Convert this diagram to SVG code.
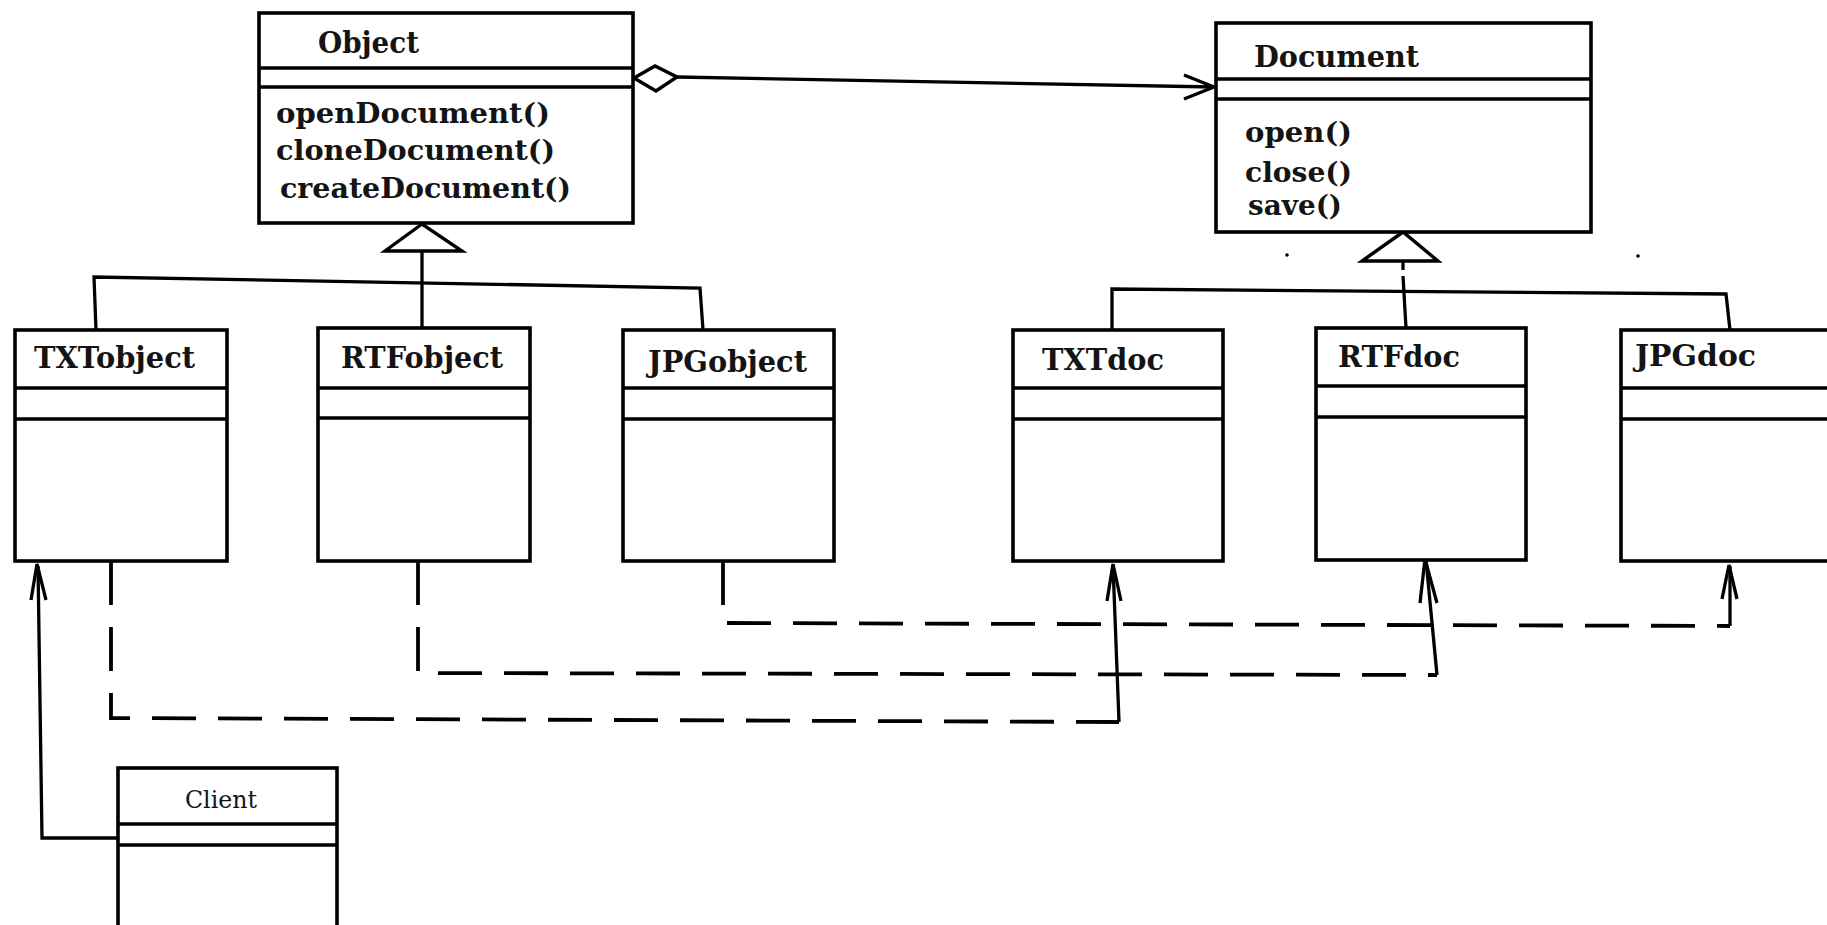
<svg xmlns="http://www.w3.org/2000/svg" width="1827" height="925" viewBox="0 0 1827 925">
  <style>
    .box { fill: #ffffff; stroke: #000000; stroke-width: 3.6; }
    .sep { stroke: #000000; stroke-width: 3.6; fill: none; }
    .title { font-family: "DejaVu Serif", "Liberation Serif", serif; font-weight: bold; font-size: 29px; fill: #141414; }
    .method { font-family: "DejaVu Serif", "Liberation Serif", serif; font-weight: bold; font-size: 27px; fill: #141414; }
    .plain { font-family: "DejaVu Serif", "Liberation Serif", serif; font-size: 24px; fill: #151515; }
    .line { fill: none; stroke: #000000; stroke-width: 3.3; stroke-linejoin: miter; }
    .dash { fill: none; stroke: #000000; stroke-width: 3.8; stroke-dasharray: 44 22; }
    .head { fill: none; stroke: #000000; stroke-width: 3.3; stroke-linejoin: miter; }
    .hollow { fill: #ffffff; stroke: #000000; stroke-width: 3.4; stroke-linejoin: miter; }
  </style>

  <rect x="0" y="0" width="1827" height="925" fill="#ffffff"/>

  <!-- connectors -->
  <g id="connectors">
    <!-- Object subclasses: generalization tree -->
    <polyline class="line" points="96,330 94,277 700,288 703,330"/>
    <line class="line" x1="422" y1="250" x2="422" y2="330"/>
    <polygon class="hollow" points="422,224 385,251 462,251"/>

    <!-- Document subclasses: generalization tree -->
    <polyline class="line" points="1112,330 1112,289 1726,294 1730,330"/>
    <line class="line" x1="1403" y1="261" x2="1403" y2="270"/>
    <line class="line" x1="1403" y1="276" x2="1406" y2="328"/>
    <polygon class="hollow" points="1403,232 1362,261 1438,261"/>

    <!-- Object aggregates Document -->
    <line class="line" x1="677" y1="77" x2="1214" y2="87"/>
    <polygon class="hollow" points="634,78 655,66 677,77 656,91"/>
    <polyline class="head" points="1184,75 1214,87 1184,99"/>

    <!-- Client uses TXTobject -->
    <polyline class="line" points="118,838 42,838 38,566"/>
    <polyline class="head" points="31,600 37,564 46,600"/>

    <!-- TXTobject creates TXTdoc -->
    <path class="dash" d="M111,561 V718 L1119,722"/>
    <line class="line" x1="1119" y1="722" x2="1113" y2="565"/>
    <polyline class="head" points="1107,601 1113,564 1121,601"/>

    <!-- RTFobject creates RTFdoc -->
    <path class="dash" d="M418,561 V673 L1437,675"/>
    <line class="line" x1="1437" y1="675" x2="1426" y2="560"/>
    <polyline class="head" points="1420,603 1425,559 1437,603"/>

    <!-- JPGobject creates JPGdoc -->
    <path class="dash" d="M723,561 V623 L1730,626"/>
    <line class="line" x1="1730" y1="626" x2="1730" y2="566"/>
    <polyline class="head" points="1722,599 1729,565 1737,599"/>

    <circle cx="1287" cy="255" r="1.8" fill="#000"/>
    <circle cx="1638" cy="256" r="1.8" fill="#000"/>
  </g>

  <!-- Object -->
  <g id="object">
    <rect class="box" x="259" y="13" width="374" height="210"/>
    <line class="sep" x1="259" y1="68" x2="633" y2="68"/>
    <line class="sep" x1="259" y1="87" x2="633" y2="87"/>
    <text class="title" x="318" y="53" textLength="101" lengthAdjust="spacingAndGlyphs">Object</text>
    <text class="method" x="276" y="123" textLength="274" lengthAdjust="spacingAndGlyphs">openDocument()</text>
    <text class="method" x="276" y="160" textLength="279" lengthAdjust="spacingAndGlyphs">cloneDocument()</text>
    <text class="method" x="280" y="198" textLength="291" lengthAdjust="spacingAndGlyphs">createDocument()</text>
  </g>

  <!-- Document -->
  <g id="document">
    <rect class="box" x="1216" y="23" width="375" height="209"/>
    <line class="sep" x1="1216" y1="79" x2="1591" y2="79"/>
    <line class="sep" x1="1216" y1="99" x2="1591" y2="99"/>
    <text class="title" x="1254" y="67" textLength="165" lengthAdjust="spacingAndGlyphs">Document</text>
    <text class="method" x="1245" y="142" textLength="107" lengthAdjust="spacingAndGlyphs">open()</text>
    <text class="method" x="1245" y="182" textLength="107" lengthAdjust="spacingAndGlyphs">close()</text>
    <text class="method" x="1248" y="215" textLength="94" lengthAdjust="spacingAndGlyphs">save()</text>
  </g>

  <!-- TXTobject -->
  <g id="txtobject">
    <rect class="box" x="15" y="330" width="212" height="231"/>
    <line class="sep" x1="15" y1="388" x2="227" y2="388"/>
    <line class="sep" x1="15" y1="419" x2="227" y2="419"/>
    <text class="title" x="34" y="368" textLength="161" lengthAdjust="spacingAndGlyphs">TXTobject</text>
  </g>

  <!-- RTFobject -->
  <g id="rtfobject">
    <rect class="box" x="318" y="328" width="212" height="233"/>
    <line class="sep" x1="318" y1="388" x2="530" y2="388"/>
    <line class="sep" x1="318" y1="418" x2="530" y2="418"/>
    <text class="title" x="341" y="368" textLength="162" lengthAdjust="spacingAndGlyphs">RTFobject</text>
  </g>

  <!-- JPGobject -->
  <g id="jpgobject">
    <rect class="box" x="623" y="330" width="211" height="231"/>
    <line class="sep" x1="623" y1="388" x2="834" y2="388"/>
    <line class="sep" x1="623" y1="419" x2="834" y2="419"/>
    <text class="title" x="648" y="372" textLength="159" lengthAdjust="spacingAndGlyphs">JPGobject</text>
  </g>

  <!-- TXTdoc -->
  <g id="txtdoc">
    <rect class="box" x="1013" y="330" width="210" height="231"/>
    <line class="sep" x1="1013" y1="388" x2="1223" y2="388"/>
    <line class="sep" x1="1013" y1="419" x2="1223" y2="419"/>
    <text class="title" x="1042" y="370" textLength="122" lengthAdjust="spacingAndGlyphs">TXTdoc</text>
  </g>

  <!-- RTFdoc -->
  <g id="rtfdoc">
    <rect class="box" x="1316" y="328" width="210" height="232"/>
    <line class="sep" x1="1316" y1="386" x2="1526" y2="386"/>
    <line class="sep" x1="1316" y1="417" x2="1526" y2="417"/>
    <text class="title" x="1338" y="367" textLength="122" lengthAdjust="spacingAndGlyphs">RTFdoc</text>
  </g>

  <!-- JPGdoc (runs past the right edge) -->
  <g id="jpgdoc">
    <rect class="box" x="1621" y="330" width="222" height="231"/>
    <line class="sep" x1="1621" y1="388" x2="1843" y2="388"/>
    <line class="sep" x1="1621" y1="419" x2="1843" y2="419"/>
    <text class="title" x="1635" y="366" textLength="121" lengthAdjust="spacingAndGlyphs">JPGdoc</text>
  </g>

  <!-- Client (runs past the bottom edge) -->
  <g id="client">
    <rect class="box" x="118" y="768" width="219" height="175"/>
    <line class="sep" x1="118" y1="824" x2="337" y2="824"/>
    <line class="sep" x1="118" y1="845" x2="337" y2="845"/>
    <text class="plain" x="185" y="808" textLength="72" lengthAdjust="spacingAndGlyphs">Client</text>
  </g>
</svg>
